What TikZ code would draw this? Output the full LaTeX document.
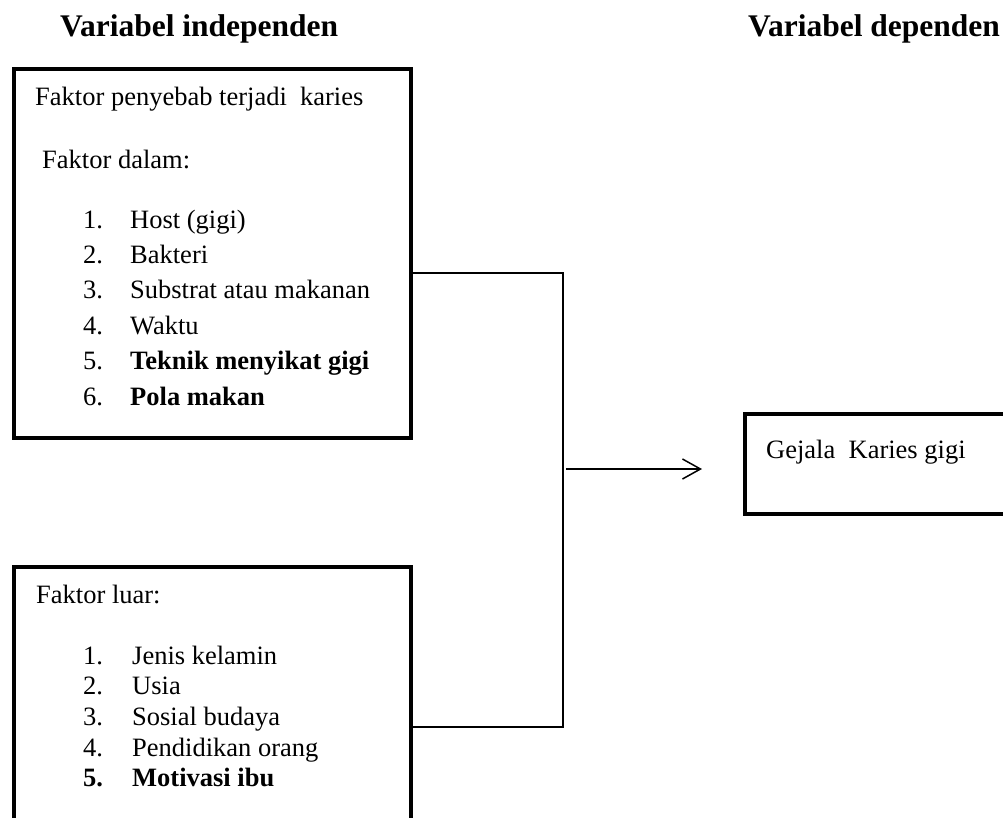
\documentclass[tikz,border=0pt]{standalone}
\usepackage{fontspec}
\setmainfont{Liberation Serif}
\usepackage{tikz}
\usetikzlibrary{arrows.meta, positioning, calc}

\tikzset{
  varbox/.style={draw, line width=4pt, rectangle, anchor=north west, inner sep=0pt},
  boxtext/.style={anchor=base west, inner sep=0pt, font=\fontsize{26.5}{35.4}\selectfont},
  headtext/.style={anchor=base west, inner sep=0pt, font=\fontsize{31.5}{36}\selectfont\bfseries},
  link/.style={line width=1.5pt}
}

\begin{document}
\begin{tikzpicture}[x=1pt, y=-1pt]
    \useasboundingbox (0,0) rectangle (1003,817);
    \clip (0,0) rectangle (1003,817);

    % headings
    \node[headtext] (hindep) at (60,36) {Variabel independen};
    \node[headtext] (hdep) at (748,36) {Variabel dependen};

    % faktor dalam
    \node[varbox, minimum width=397pt, minimum height=369pt] (dalam) at (12,67) {};
    \node[boxtext] (dalamtitle) at (35,105) {Faktor penyebab terjadi\ \ karies};
    \node[boxtext] (dalamsub) at (42,168) {Faktor dalam:};
    \node[boxtext] (dalamlist) at (83,228)
      {\begin{tabular}[t]{@{}p{47pt}@{}l@{}}
        1. & Host (gigi)\\
        2. & Bakteri\\
        3. & Substrat atau makanan\\
        4. & Waktu\\
        5. & \textbf{Teknik menyikat gigi}\\
        6. & \textbf{Pola makan}
      \end{tabular}};

    % faktor luar
    \node[varbox, minimum width=397pt, minimum height=320pt] (luar) at (12,565) {};
    \node[boxtext] (luarsub) at (36,603) {Faktor luar:};
    \node[boxtext, font=\fontsize{26.5}{30.7}\selectfont] (luarlist) at (83,664)
      {\begin{tabular}[t]{@{}p{49pt}@{}l@{}}
        1. & Jenis kelamin\\
        2. & Usia\\
        3. & Sosial budaya\\
        4. & Pendidikan orang\\
        \textbf{5.} & \textbf{Motivasi ibu}
      \end{tabular}};

    % gejala
    \node[varbox, minimum width=340pt, minimum height=100pt] (gejala) at (743,412) {};
    \node[boxtext] (gejalatext) at (766,458) {Gejala\ \ Karies gigi};

    % connectors
    \coordinate (join) at (563,469);
    \draw[link] ([yshift=-19.5pt]dalam.east) -| (join) |- (luar.east);
    \draw[link, -{Straight Barb[length=18pt, width=20pt]}, shorten <=3pt, shorten >=41pt]
      (join) -- (join -| gejala.west);
\end{tikzpicture}
\end{document}
